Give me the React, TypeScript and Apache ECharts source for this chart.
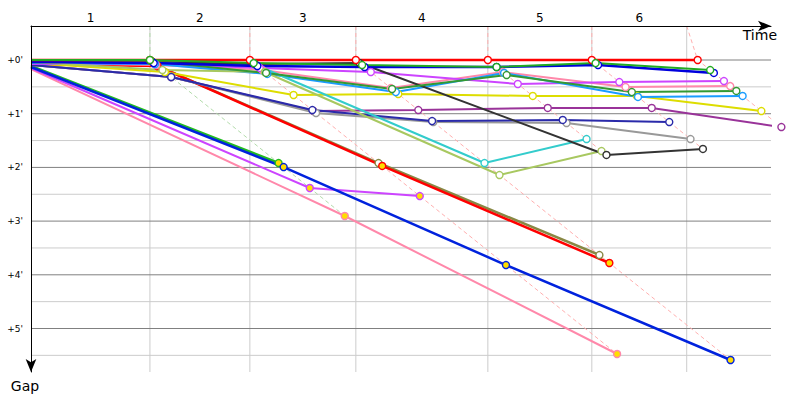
import React, { useEffect, useRef } from "react";
import * as echarts from "echarts";

// ---- axis / lap data (seconds) ----
const lapLabels = ["1", "2", "3", "4", "5", "6"];
const lapGridTimes = [0, 106.4, 195.8, 290.6, 408.7, 501.7, 586.6];
const leaderLapTimes = [0, 106.4, 195.8, 290.6, 408.7, 501.7, 596.4];
const gapMajorTicks = [0, 60, 120, 180, 240, 300];
const gapMinorLines = [30, 90, 150, 210, 270, 330];
const lapLineColors = ["#b4dcac", "#ffb0b0", "#ffb0b0", "#ffb0b0", "#ffb0b0", "#ffb0b0"];

// ---- gap to leader (seconds) at start and after each lap ----
const gapsLeader = [0, 0, 0, 0, 0, 0, 0];
const gapsGreen = [0, 0, 3.4, 5.6, 7.8, 3.4, 11.2];
const gapsDarkGreen = [1.1, 1.1, 14.5, 32.4, 16.8, 35.8, 34.6];
const gapsBlue = [2.2, 3.4, 6.7, 7.8, 7.8, 5.6, 14.5];
const gapsBlack = [1.1, 2.2, 4.5, 3.4, 106.1, 99.4];
const gapsTeal = [2.2, 2.2, 5.6, 115.1, 88.3];
const gapsLime = [2.2, 11.2, 13.4, 128.5, 101.7];
const gapsAzure = [3.4, 4.5, 15.6, 35.8, 14.5, 41.3, 40.2];
const gapsMagenta = [4.5, 4.5, 8.9, 13.4, 26.8, 24.6, 23.5];
const gapsPink = [3.4, 5.6, 11.2, 31.3, 13.4, 30.2, 29.1];
const gapsYellow = [3.4, 13.4, 39.1, 38.0, 40.2, 40.2, 57.0];
const gapsNavy = [5.6, 19.0, 55.9, 68.2, 67.0, 69.3];
const gapsGrey = [5.6, 19.0, 59.2, 69.3, 70.4, 88.3];
const gapsPurple = [5.6, 19.0, 57.0, 55.9, 53.6, 53.6, 74.9];
const gapsOlive = [1.1, 6.7, 115.1, 217.9];
const gapsRed2 = [4.5, 6.7, 118.4, 226.8];
const gapsGreen2 = [6.7, 115.1];
const gapsBlue2 = [7.8, 119.6, 229.1, 335.2];
const gapsMagenta2 = [8.9, 143.0, 152.0];
const gapsPink2 = [10.1, 174.3, 328.5];

const YEL = "#ffdd00";
const cars = [
  { gaps: gapsPink2, color: "#ff88aa", fill: YEL, width: 2 },
  { gaps: gapsMagenta2, color: "#cc44ff", fill: YEL, width: 2 },
  { gaps: gapsGreen2, color: "#22bb22", fill: YEL, width: 2.5 },
  { gaps: gapsBlue2, color: "#0022dd", fill: YEL, width: 2.5 },
  { gaps: gapsOlive, color: "#888844", fill: "#fff", width: 2.5 },
  { gaps: gapsRed2, color: "#ff0000", fill: YEL, width: 2.5 },
  { gaps: gapsPurple, color: "#993399", fill: "#fff", width: 2 },
  { gaps: gapsGrey, color: "#999999", fill: "#fff", width: 2 },
  { gaps: gapsNavy, color: "#2a2aaa", fill: "#fff", width: 2 },
  { gaps: gapsYellow, color: "#dddd00", fill: "#fff", width: 2 },
  { gaps: gapsPink, color: "#ff88aa", fill: "#fff", width: 2 },
  { gaps: gapsMagenta, color: "#cc44ff", fill: "#fff", width: 2 },
  { gaps: gapsAzure, color: "#1a9cff", fill: "#fff", width: 2 },
  { gaps: gapsLime, color: "#a8c860", fill: "#fff", width: 2 },
  { gaps: gapsTeal, color: "#33cccc", fill: "#fff", width: 2 },
  { gaps: gapsBlack, color: "#333333", fill: "#fff", width: 2 },
  { gaps: gapsDarkGreen, color: "#339933", fill: "#fff", width: 2 },
  { gaps: gapsBlue, color: "#0000dd", fill: "#fff", width: 2.5 },
  { gaps: gapsLeader, color: "#ff0000", fill: "#fff", width: 2.5 },
  { gaps: gapsGreen, color: "#22aa22", fill: "#fff", width: 2 },
];

const Y_MIN = -38;
const Y_MAX = 348.6;
const X_MAX = 662;

export default function App() {
  const ref = useRef<HTMLDivElement>(null);
  useEffect(() => {
    if (!ref.current) return;
    const chart = echarts.init(ref.current, undefined, { renderer: "svg" });
    const font = "DejaVu Sans";
    const lapMids = lapLabels.map((_, i) => (lapGridTimes[i] + lapGridTimes[i + 1]) / 2);

    const gridLine = (data: number[][], color: string) => ({
      type: "line",
      silent: true,
      clip: false,
      z: 0,
      symbol: "none",
      showSymbol: false,
      lineStyle: { color, width: 1, type: "solid" },
      data,
    });

    const gridSeries = [
      ...gapMinorLines.map((v) => gridLine([[0, v], [X_MAX, v]], "#cccccc")),
      ...lapGridTimes.slice(1).map((v) => gridLine([[v, Y_MIN], [v, Y_MAX]], "#cccccc")),
      ...gapMajorTicks.map((v) => gridLine([[0, v], [X_MAX, v]], "#808080")),
    ];

    const lapLineSeries = lapLabels.map((_, li) => {
      const lap = li + 1;
      let gmax = 0;
      cars.forEach((c) => {
        if (c.gaps.length > lap) gmax = Math.max(gmax, c.gaps[lap]);
      });
      return {
        type: "line",
        silent: true,
        clip: false,
        z: 1,
        showSymbol: false,
        symbol: "none",
        lineStyle: { color: lapLineColors[li], width: 1, type: [4, 3] },
        data: [
          [lapGridTimes[lap], Y_MIN],
          [leaderLapTimes[lap], 0],
          [leaderLapTimes[lap] + gmax, gmax],
        ],
      };
    });

    const carSeries = cars.map((c) => ({
      type: "line",
      clip: false,
      z: 3,
      symbol: "circle",
      symbolSize: 7,
      showAllSymbol: true,
      lineStyle: { color: c.color, width: c.width },
      itemStyle: { color: c.fill, borderColor: c.color, borderWidth: 1.4 },
      data: c.gaps.map((g, i) =>
        i === 0 ? { value: [0, g], symbol: "none" } : [leaderLapTimes[i] + g, g]
      ),
    }));

    chart.setOption({
      animation: false,
      backgroundColor: "#ffffff",
      grid: { left: 31, right: 29, top: 26, bottom: 28, containLabel: false, outerBoundsMode: "none" },
      xAxis: {
        type: "value",
        position: "top",
        min: 0,
        max: X_MAX,
        z: 4,
        axisLine: {
          show: true,
          onZero: false,
          symbol: ["none", "arrow"],
          symbolSize: [8, 13],
          lineStyle: { color: "#000", width: 1 },
        },
        axisTick: { show: false },
        splitLine: { show: false },
        axisLabel: {
          customValues: lapMids,
          formatter: (v: number) => {
            const idx = lapMids.findIndex((m) => Math.abs(m - v) < 0.01);
            return idx >= 0 ? lapLabels[idx] : "";
          },
          color: "#000",
          fontSize: 12,
          fontFamily: font,
          margin: 2,
        },
      },
      yAxis: {
        type: "value",
        inverse: true,
        min: Y_MIN,
        max: Y_MAX,
        z: 4,
        axisLine: {
          show: true,
          onZero: false,
          symbol: ["arrow", "none"],
          symbolSize: [8, 13],
          lineStyle: { color: "#000", width: 1 },
        },
        axisTick: { show: false },
        splitLine: { show: false },
        axisLabel: {
          customValues: gapMajorTicks,
          formatter: (v: number) => "+" + Math.round(v / 60) + "'",
          color: "#000",
          fontSize: 9,
          fontFamily: font,
          margin: 8,
        },
      },
      graphic: [
        {
          type: "text",
          x: 777,
          y: 35,
          style: { text: "Time", font: `14px "${font}"`, fill: "#000", align: "right", verticalAlign: "middle" },
        },
        {
          type: "text",
          x: 25,
          y: 386,
          style: { text: "Gap", font: `14px "${font}"`, fill: "#000", align: "center", verticalAlign: "middle" },
        },
      ],
      series: [...gridSeries, ...lapLineSeries, ...carSeries],
    });
    return () => chart.dispose();
  }, []);
  return (
    <div
      ref={ref}
      style={{ position: "fixed", left: 0, top: 0, width: 800, height: 400, background: "#fff" }}
    />
  );
}
